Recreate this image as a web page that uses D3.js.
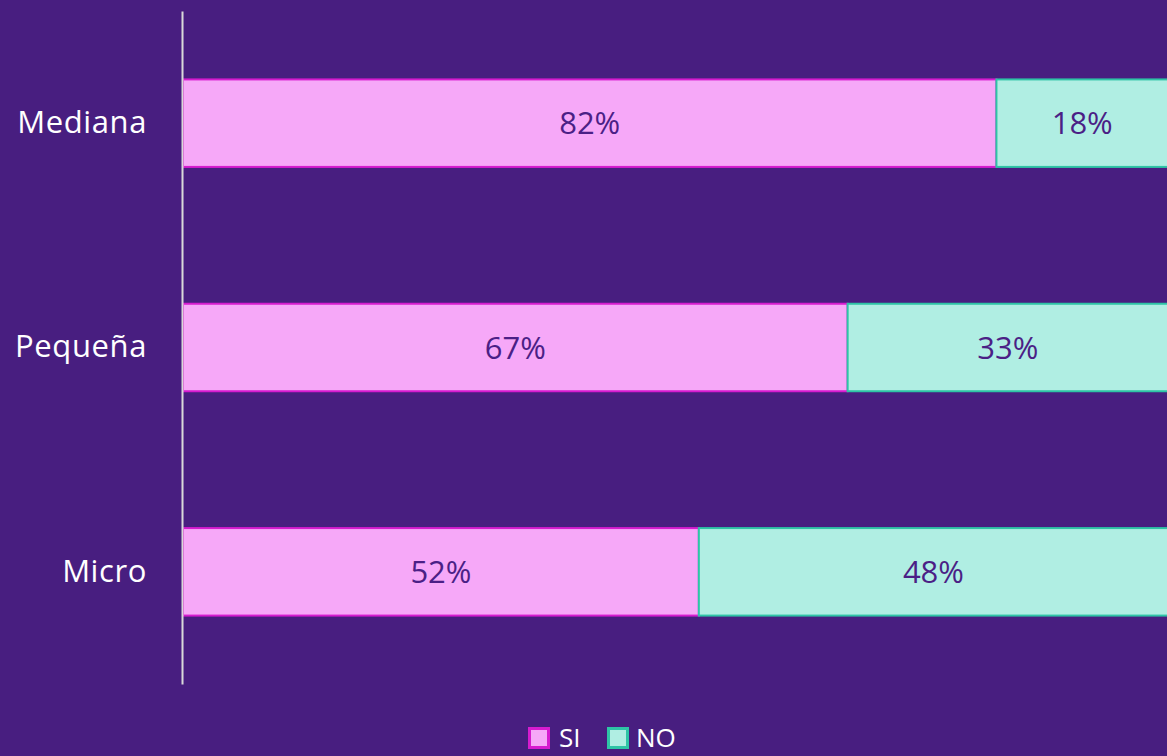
<!DOCTYPE html>
<html>
<head>
<meta charset="utf-8">
<script src="https://cdn.jsdelivr.net/npm/d3@7"></script>
<style>
  body { margin: 0; background: #481e80; }
  svg { display: block; }
</style>
</head>
<body>
<svg id="fig" width="1167" height="756"></svg>
<script>
var categories = ["Mediana", "Pequeña", "Micro"];
var seriesNames = ["SI", "NO"];
var siValues = [82, 67, 52];
var noValues = [18, 33, 48];

var fills = { SI: "#f6a8f8", NO: "#b0eee3" };
var strokes = { SI: "#d61ccf", NO: "#2ec4a6" };

var svg = d3.select("#fig");
var plotLeft = 182, plotRight = 1174, plotTop = 11, plotBottom = 684;

var x = d3.scaleLinear().domain([0, 100]).range([plotLeft, plotRight]);
var y = d3.scaleBand().domain(categories).range([plotTop, plotBottom]).paddingInner(0.61).paddingOuter(0.305);

var rows = categories.map(function(c, i) { return { cat: c, SI: siValues[i], NO: noValues[i] }; });
var stacked = d3.stack().keys(seriesNames)(rows);

var g = svg.append("g");
stacked.forEach(function(layer) {
    var key = layer.key;
    var grp = g.append("g");
    grp.selectAll("rect").data(layer).enter().append("rect")
       .attr("x", d => x(d[0]) + 1)
       .attr("y", d => y(d.data.cat))
       .attr("width", d => x(d[1]) - x(d[0]))
       .attr("height", y.bandwidth())
       .attr("fill", fills[key])
       .attr("stroke", strokes[key])
       .attr("stroke-width", 2);
    grp.selectAll("text").data(layer).enter().append("text")
       .attr("x", d => (x(d[0]) + Math.min(x(d[1]), 1167)) / 2 + 1)
       .attr("y", d => y(d.data.cat) + y.bandwidth() / 2)
       .attr("dy", "0.36em")
       .attr("text-anchor", "middle")
       .attr("font-family", "'Open Sans', sans-serif")
       .attr("font-size", 31)
       .attr("fill", "#4b1f86")
       .text(d => (d[1] - d[0]) + "%");
});

// vertical axis
var axis = svg.append("g").attr("transform", "translate(" + plotLeft + ",0)")
    .call(d3.axisLeft(y).tickSize(0).tickPadding(35));
axis.select(".domain").attr("stroke", "#d9d9d9").attr("stroke-width", 2);
axis.selectAll("text")
    .attr("fill", "#ffffff")
    .attr("font-family", "'Open Sans', sans-serif")
    .attr("font-size", 31)
    .attr("letter-spacing", 0.6);

// legend
var legend = svg.append("g").attr("transform", "translate(528,727)");
var items = [{ name: "SI", x: 0, tx: 31 }, { name: "NO", x: 79, tx: 108 }];
legend.selectAll("rect").data(items).enter().append("rect")
    .attr("x", d => d.x + 1.5).attr("y", 1.5)
    .attr("width", 19).attr("height", 19)
    .attr("fill", d => fills[d.name])
    .attr("stroke", d => strokes[d.name])
    .attr("stroke-width", 3);
legend.selectAll("text").data(items).enter().append("text")
    .attr("x", d => d.tx).attr("y", 20)
    .attr("fill", "#ffffff")
    .attr("font-family", "'Open Sans', sans-serif")
    .attr("font-size", 26)
    .text(d => d.name);
</script>
</body>
</html>
